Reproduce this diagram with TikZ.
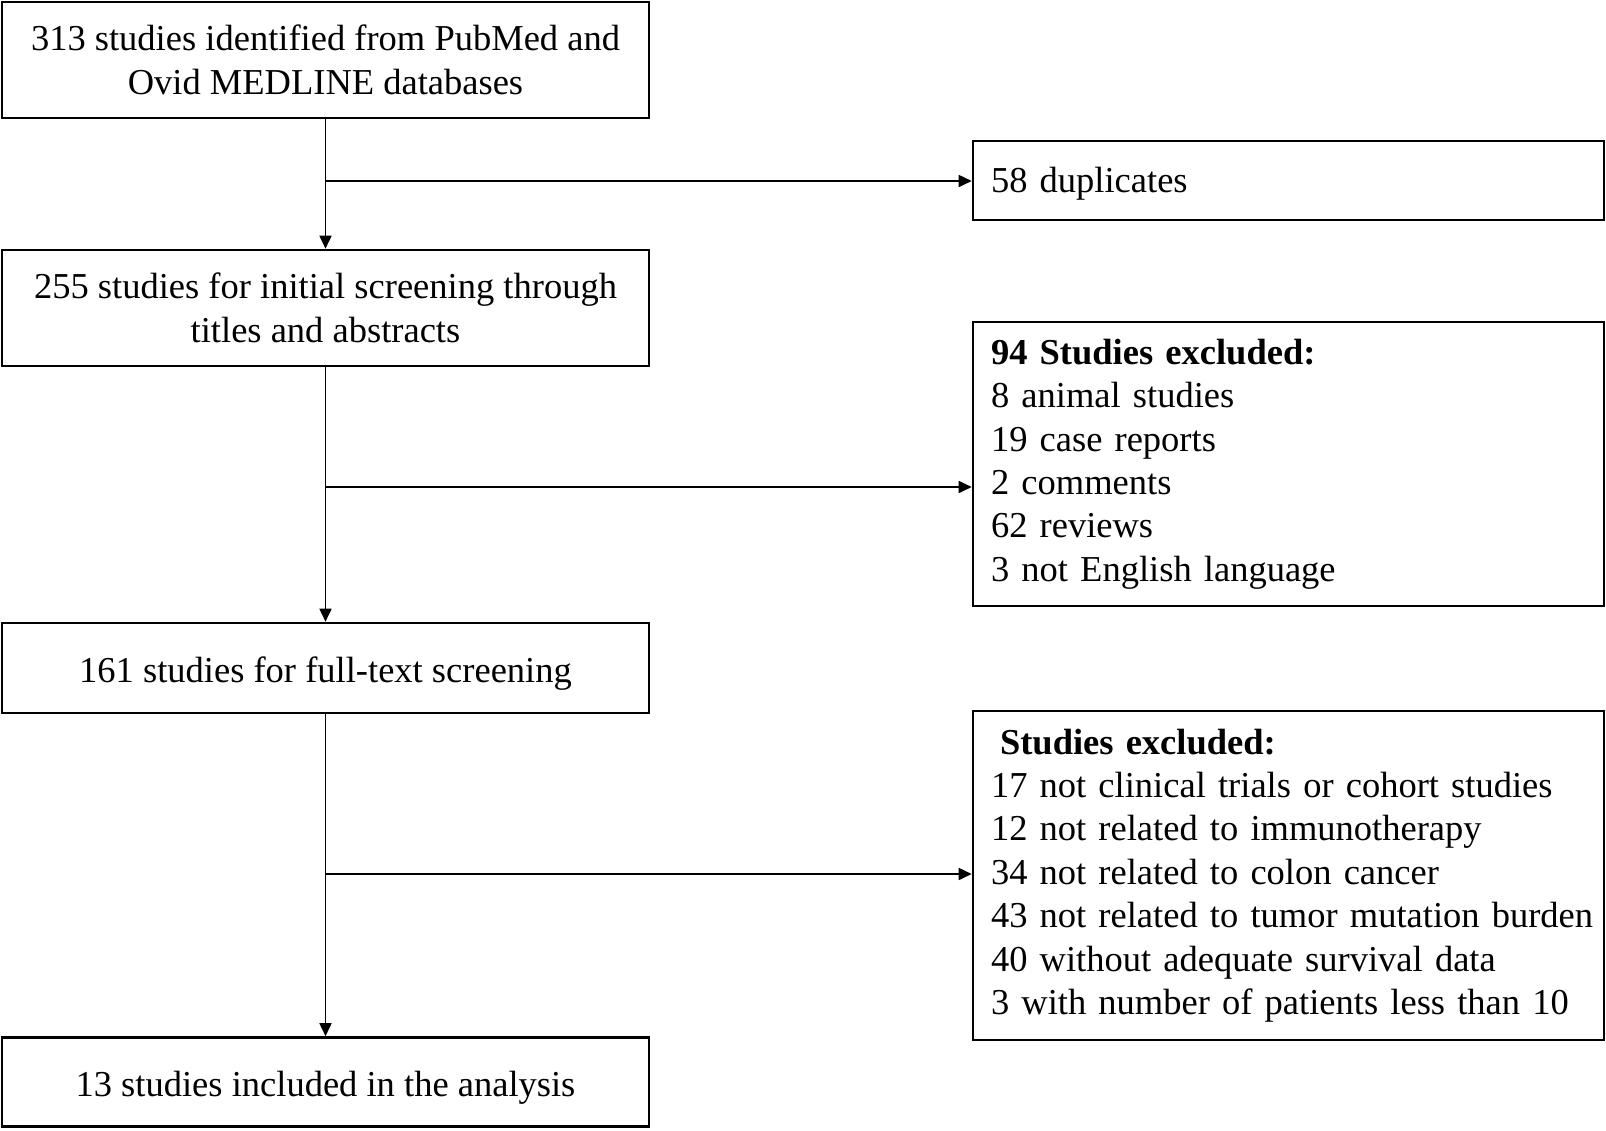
\documentclass[tikz,border=0pt]{standalone}
\usepackage{fontspec}
\setmainfont{Liberation Serif}
\usetikzlibrary{arrows.meta}
\newcommand{\lowerby}[2]{\raisebox{0pt}[\dimexpr\height+#1\relax][\depth]{#2}}
\begin{document}
\begin{tikzpicture}[x=1pt,y=-1pt,
  box/.style={draw=black, line width=2.6pt, inner sep=0pt, font=\fontsize{36.5}{43.4}\selectfont},
  leftbox/.style={box, minimum width=647pt, align=center},
  rightbox/.style={box, minimum width=631pt, text width=595pt, inner xsep=18pt, align=left},
  conn/.style={line width=1.7pt},
  arr/.style={conn, -{Triangle[length=13pt,width=12pt]}}]
\useasboundingbox (0,0) rectangle (1606,1130);
% left column
\node[leftbox, minimum height=116pt] (b1) at (325.5,60) {313 studies identified from PubMed and\\Ovid MEDLINE databases};
\node[leftbox, minimum height=116pt] (b2) at (325.5,308) {255 studies for initial screening through\\titles and abstracts};
\node[leftbox, minimum height=90pt] (b3) at (325.5,668) {\lowerby{12pt}{161 studies for full-text screening}};
\node[leftbox, minimum height=89pt] (b4) at (325.5,1082) {\lowerby{12pt}{13 studies included in the analysis}};
% right column
\node[rightbox, minimum height=79pt] (dup) at (1288.5,180.5) {\lowerby{6pt}{58 duplicates}};
\node[rightbox, minimum height=284pt] (ex1) at (1288.5,464) {\textbf{94 Studies excluded:}\\8 animal studies\\19 case reports\\2 comments\\62 reviews\\3 not English language};
\node[rightbox, minimum height=329pt] (ex2) at (1288.5,875.5) {\hspace{9pt}\textbf{Studies excluded:}\\17 not clinical trials or cohort studies\\12 not related to immunotherapy\\34 not related to colon cancer\\\mbox{43 not related to tumor mutation burden}\\40 without adequate survival data\\3 with number of patients less than 10};
% junctions
\coordinate (j1) at (325.5,181);
\coordinate (j2) at (325.5,487);
\coordinate (j3) at (325.5,874);
% connectors
\draw[arr] (b1.south) -- (b2.north);
\draw[arr] (b2.south) -- (b3.north);
\draw[arr] (b3.south) -- (b4.north);
\draw[arr] (j1) -- (j1 -| dup.west);
\draw[arr] (j2) -- (j2 -| ex1.west);
\draw[arr] (j3) -- (j3 -| ex2.west);
\end{tikzpicture}
\end{document}
